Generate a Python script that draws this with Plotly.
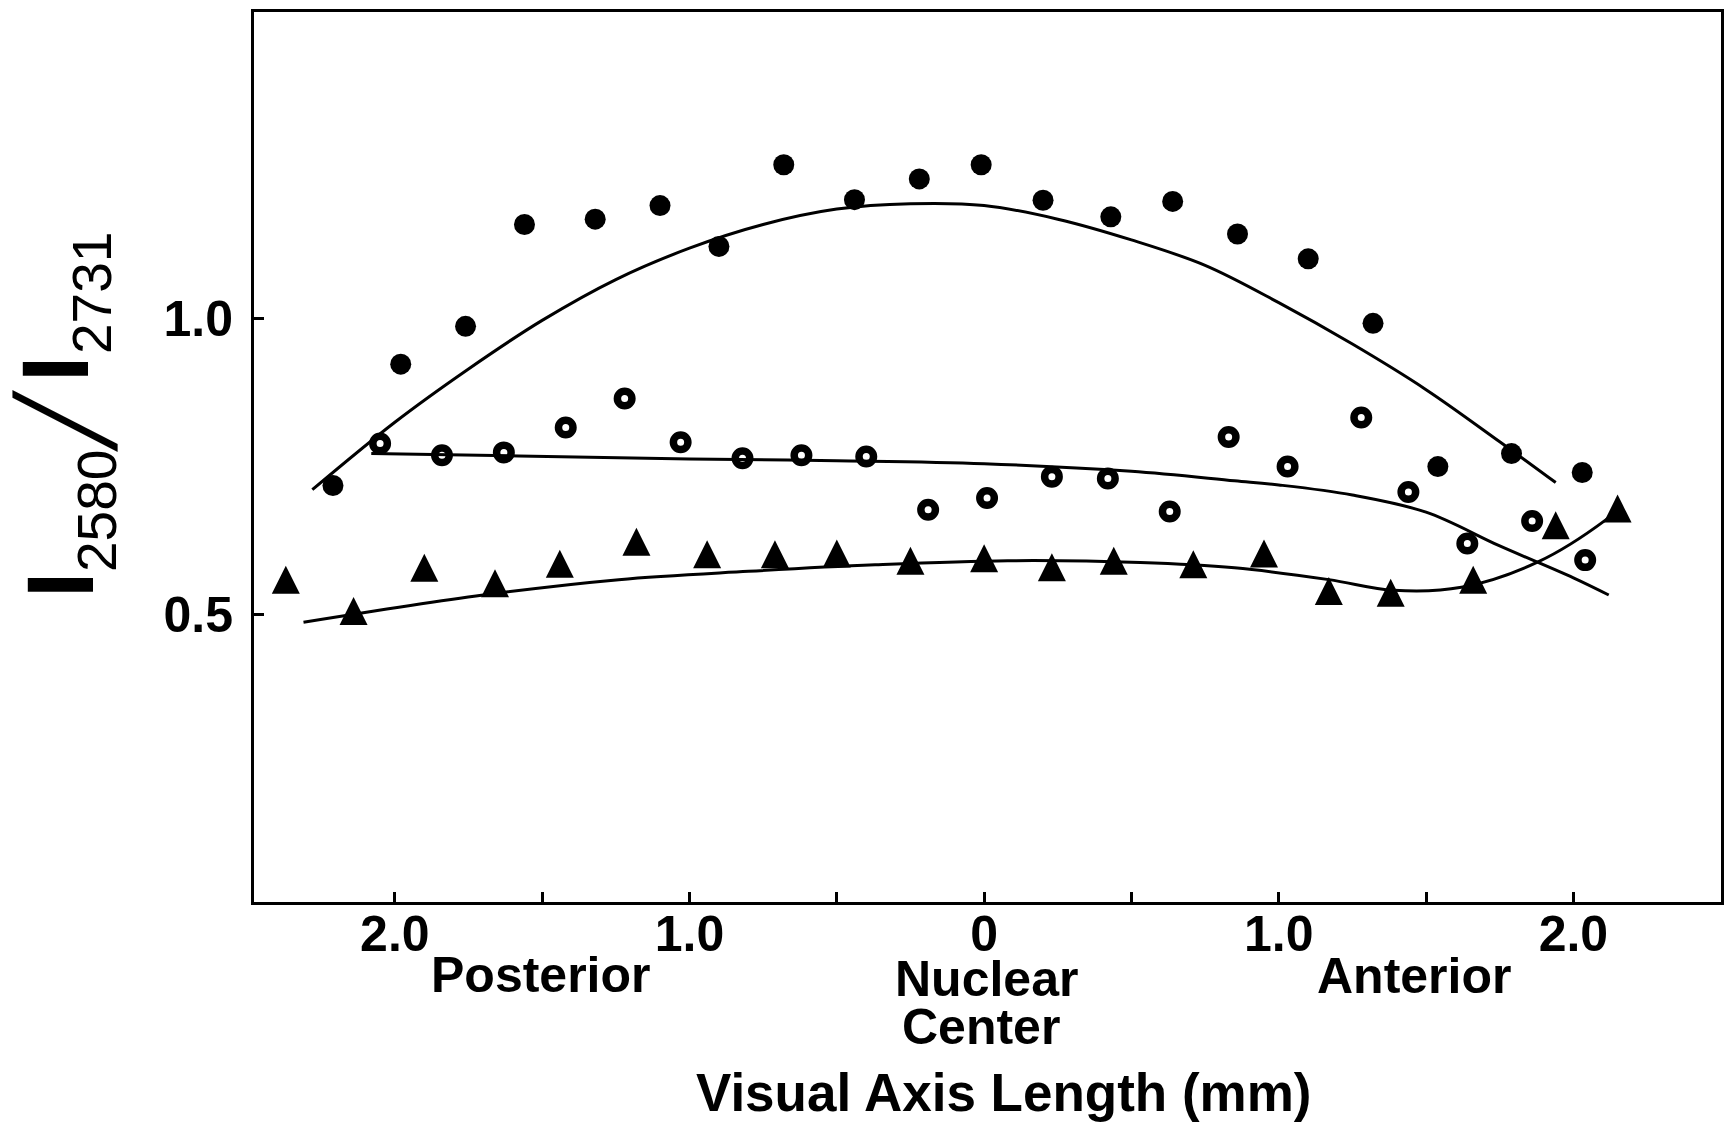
import plotly.graph_objects as go

# ---------------- data ----------------
# x: position along the visual axis in mm (negative = posterior, positive = anterior)
filled_x = [-2.21, -1.98, -1.76, -1.56, -1.32, -1.10, -0.90, -0.68, -0.44, -0.22,
            -0.01, 0.20, 0.43, 0.64, 0.86, 1.10, 1.32, 1.54, 1.79, 2.03]
filled_y = [0.718, 0.923, 0.987, 1.159, 1.168, 1.191, 1.122, 1.260, 1.201, 1.236,
            1.260, 1.200, 1.172, 1.198, 1.143, 1.101, 0.992, 0.750, 0.772, 0.740]

open_x = [-2.05, -1.84, -1.63, -1.42, -1.22, -1.03, -0.82, -0.62, -0.40, -0.19,
          0.01, 0.23, 0.42, 0.63, 0.83, 1.03, 1.28, 1.44, 1.64, 1.86, 2.04]
open_y = [0.789, 0.769, 0.774, 0.816, 0.865, 0.791, 0.764, 0.769, 0.767, 0.677,
          0.697, 0.733, 0.730, 0.674, 0.800, 0.750, 0.833, 0.707, 0.620, 0.658, 0.592]

tri_x = [-2.37, -2.14, -1.90, -1.66, -1.44, -1.18, -0.94, -0.71, -0.50, -0.25,
         0.00, 0.23, 0.44, 0.71, 0.95, 1.17, 1.38, 1.66, 1.94, 2.15]
tri_y = [0.559, 0.506, 0.579, 0.553, 0.586, 0.623, 0.602, 0.602, 0.603, 0.591,
         0.595, 0.580, 0.591, 0.585, 0.603, 0.540, 0.537, 0.559, 0.651, 0.679]

# hand-drawn fitted curves
fit_filled_x = [-2.28, -2.00, -1.75, -1.50, -1.25, -1.00, -0.75, -0.50, -0.25, 0.00,
                0.25, 0.50, 0.75, 1.00, 1.25, 1.50, 1.75, 1.94]
fit_filled_y = [0.711, 0.825, 0.915, 0.997, 1.066, 1.119, 1.159, 1.185, 1.194, 1.191,
                1.168, 1.133, 1.090, 1.027, 0.957, 0.880, 0.792, 0.723]

fit_open_x = [-2.08, -1.58, -1.00, -0.50, 0.00, 0.50, 0.85, 1.00, 1.25, 1.50, 1.75,
              2.00, 2.12]
fit_open_y = [0.772, 0.768, 0.763, 0.760, 0.755, 0.742, 0.726, 0.719, 0.702, 0.673,
              0.616, 0.562, 0.533]

fit_tri_x = [-2.31, -1.70, -1.24, -0.80, -0.37, 0.08, 0.53, 0.85, 1.17, 1.39, 1.62,
             1.88, 2.11, 2.16]
fit_tri_y = [0.487, 0.533, 0.559, 0.573, 0.584, 0.591, 0.588, 0.579, 0.559, 0.541, 0.546,
             0.589, 0.660, 0.682]

x_tickvals = [-2.0, -1.5, -1.0, -0.5, 0.0, 0.5, 1.0, 1.5, 2.0]
x_ticktext = ["2.0", "", "1.0", "", "0", "", "1.0", "", "2.0"]
y_tickvals = [0.5, 1.0]
y_ticktext = ["0.5", "1.0"]

# ---------------- figure ----------------
W, H = 1727, 1127
ML, MR, MT, MB = 254, 6, 12, 225
PW, PH = W - ML - MR, H - MT - MB
FONT = "Liberation Sans, Arial, Helvetica, sans-serif"


def paper(X, Y):
    return (X - ML) / PW, (H - MB - Y) / PH


fig = go.Figure()
line_style = dict(color="black", width=3, shape="spline", smoothing=1.0)
for cx, cy in [(fit_filled_x, fit_filled_y), (fit_open_x, fit_open_y), (fit_tri_x, fit_tri_y)]:
    fig.add_trace(go.Scatter(x=cx, y=cy, mode="lines", line=line_style,
                             hoverinfo="skip", showlegend=False))

fig.add_trace(go.Scatter(x=filled_x, y=filled_y, mode="markers", showlegend=False,
                         marker=dict(symbol="circle", size=21, color="black",
                                     line=dict(width=0))))
fig.add_trace(go.Scatter(x=open_x, y=open_y, mode="markers", showlegend=False,
                         marker=dict(symbol="circle-open", size=14.5, color="black",
                                     line=dict(width=7.5, color="black"))))
fig.add_trace(go.Scatter(x=tri_x, y=tri_y, mode="markers", showlegend=False,
                         marker=dict(symbol="arrow-down", angle=180, standoff=14,
                                     size=28, color="black", line=dict(width=0))))

axis_common = dict(showline=True, linewidth=3, linecolor="black", mirror=True,
                   showgrid=False, zeroline=False, ticks="inside", ticklen=10,
                   tickwidth=2.5, tickcolor="black",
                   tickfont=dict(family=FONT, size=50, color="black", weight="bold"))

fig.update_layout(
    width=W, height=H, template="none",
    paper_bgcolor="white", plot_bgcolor="white",
    margin=dict(l=ML, r=MR, t=MT, b=MB, pad=0),
    showlegend=False,
    xaxis=dict(range=[-2.478, 2.501], tickvals=x_tickvals, ticktext=x_ticktext,
               ticklabelstandoff=-14, **axis_common),
    yaxis=dict(range=[0.0144, 1.518], tickvals=y_tickvals, ticktext=y_ticktext,
               ticklabelstandoff=8, **axis_common),
)

ann = []
# bottom descriptive labels
bold = dict(family=FONT, size=50, color="black", weight="bold")
for txt, X, Y, sz in [("Posterior", 541, 975, 50), ("Nuclear", 986, 979, 50),
                      ("Center", 981, 1027, 50), ("Anterior", 1414, 976, 50),
                      ("Visual Axis Length (mm)", 1004, 1092, 53)]:
    px, py = paper(X, Y)
    ann.append(dict(text=txt, x=px, y=py, xref="paper", yref="paper", showarrow=False,
                    xanchor="center", yanchor="middle", borderpad=0,
                    font=dict(bold, size=sz)))

# y-axis title: I2580 / I2731 (rotated, reading upward)
big_i = dict(family=FONT, size=95, color="black", weight="bold")
sub_f = dict(family=FONT, size=55, color="black")
slash_f = dict(family="DejaVu Sans", size=90, color="black")
for txt, X, Y, f in [("I", 60, 585, big_i), ("2580", 97, 511, sub_f),
                     ("\u2571", 65, 421, slash_f), ("I", 55, 369, big_i),
                     ("2731", 92, 293, sub_f)]:
    px, py = paper(X, Y)
    ann.append(dict(text=txt, x=px, y=py, xref="paper", yref="paper", showarrow=False,
                    xanchor="center", yanchor="middle", textangle=-90, borderpad=0,
                    font=f))

fig.update_layout(annotations=ann)

fig.write_html("out.html", config={"displayModeBar": False},
               post_script="document.body.style.margin='0';document.body.style.overflow='hidden';")
